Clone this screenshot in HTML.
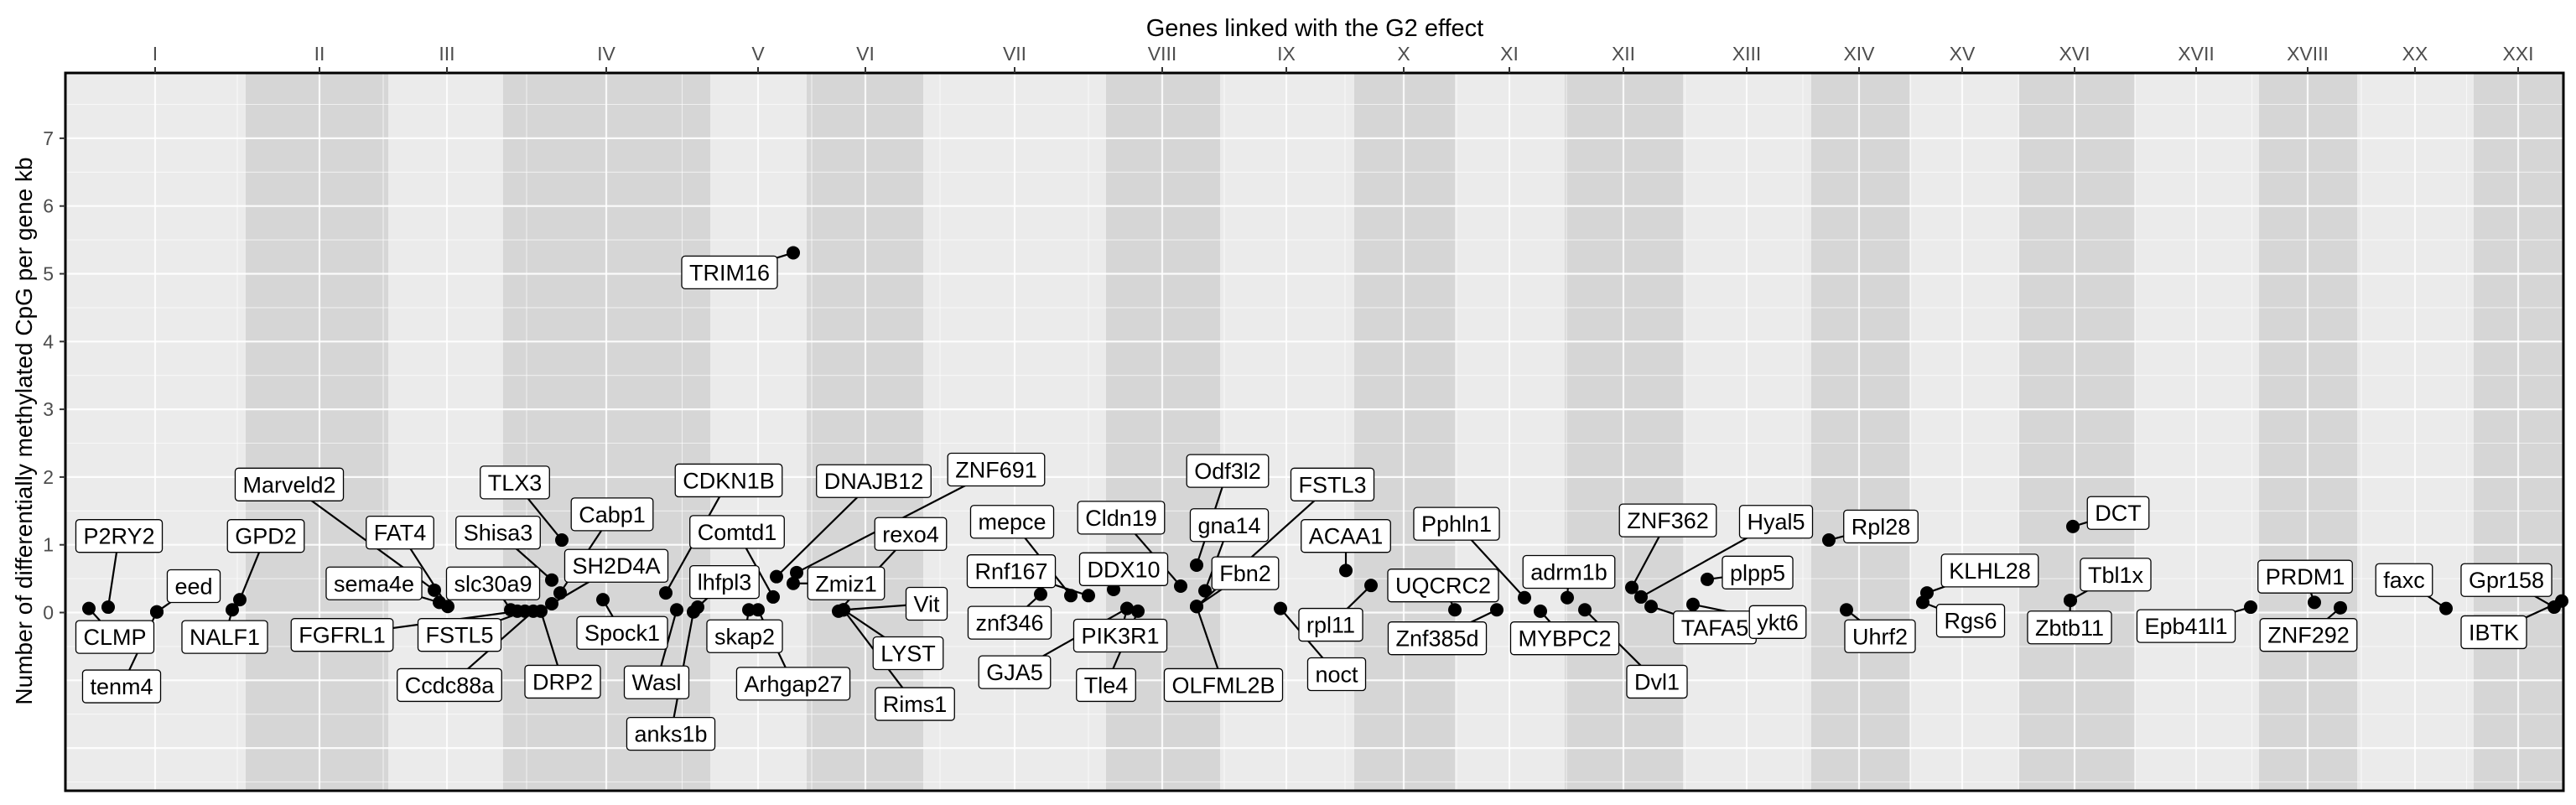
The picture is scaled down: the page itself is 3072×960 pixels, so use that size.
<!DOCTYPE html>
<html><head><meta charset="utf-8"><style>
html,body{margin:0;padding:0;background:#fff;}
svg{display:block;font-family:"Liberation Sans",Arial,sans-serif;}
</style></head><body>
<svg id="chart" width="3072" height="960" viewBox="0 0 3072 960" xmlns="http://www.w3.org/2000/svg">
<g id="bands"></g>
<g id="grid"></g>
<g id="segs"></g>
<g id="pts"></g>
<g id="labs"></g>
<g id="axes"></g>
<text x="1568" y="43" font-size="29" text-anchor="middle" fill="#000">Genes linked with the G2 effect</text>
<text transform="translate(38,514) rotate(-90)" font-size="28" text-anchor="middle" fill="#000">Number of differentially methylated CpG per gene kb</text>
</svg>
<script>
const chromNames=["I","II","III","IV","V","VI","VII","VIII","IX","X","XI","XII","XIII","XIV","XV","XVI","XVII","XVIII","XX","XXI"];
const chromTicks=[107,303,455,645,826,954,1132,1308,1456,1596,1722,1858,2005,2139,2262,2396,2541,2674,2802,2925];
const darkBandStart=[215,522,884,1241,1537,1788,2082,2330,2616,2872];
const darkBandEnd=[385,769,1023,1377,1657,1929,2199,2467,2733,2979];
const yTicks=[0,1,2,3,4,5,6,7];
const genes=["CLMP","P2RY2","tenm4","eed","NALF1","GPD2","Marveld2","sema4e","FAT4","slc30a9","FGFRL1","FSTL5","Ccdc88a","DRP2","Shisa3","SH2D4A","Cabp1","TLX3","Spock1","CDKN1B","Wasl","anks1b","lhfpl3","skap2","Arhgap27","Comtd1","TRIM16","DNAJB12","Zmiz1","ZNF691","rexo4","Vit","LYST","Rims1","znf346","mepce","Rnf167","DDX10","GJA5","PIK3R1","Tle4","Cldn19","Odf3l2","gna14","Fbn2","OLFML2B","FSTL3","noct","ACAA1","rpl11","UQCRC2","Znf385d","Pphln1","MYBPC2","adrm1b","Dvl1","ZNF362","Hyal5","TAFA5","ykt6","plpp5","Rpl28","Uhrf2","Rgs6","KLHL28","Tbl1x","Zbtb11","DCT","Epb41l1","PRDM1","ZNF292","faxc","Gpr158","IBTK"];
const genePos=[28,51,109,109,199,208,440,446,456,531,539,548,558,567,580,580,590,592,641,716,729,749,754,815,826,844,868,848,868,872,922,928,928,928,1163,1199,1220,1250,1266,1266,1279,1330,1349,1359,1349,1349,1349,1449,1527,1557,1657,1707,1740,1759,1791,1812,1868,1879,1891,1941,1958,2103,2124,2215,2220,2391,2391,2394,2606,2682,2713,2839,2968,2977];
const cpgPerKb=[0.06,0.08,0.01,0.01,0.04,0.19,0.33,0.15,0.09,0.04,0.02,0.02,0.02,0.02,0.48,0.13,0.29,1.07,0.19,0.29,0.04,0.01,0.08,0.04,0.04,0.23,5.31,0.53,0.43,0.59,0.02,0.04,0.04,0.04,0.27,0.25,0.25,0.34,0.06,0.06,0.02,0.39,0.70,0.32,0.09,0.09,0.09,0.06,0.62,0.40,0.04,0.04,0.22,0.02,0.22,0.04,0.37,0.23,0.09,0.12,0.49,1.07,0.04,0.15,0.29,0.18,0.18,1.27,0.08,0.15,0.07,0.06,0.08,0.17];
const labelPos=[59,64,67,153,190,239,267,368,399,510,330,470,458,593,516,657,652,536,664,791,705,722,786,810,868,801,792,964,931,1110,1008,1027,1005,1013,1126,1129,1128,1262,1132,1258,1241,1259,1386,1388,1407,1381,1511,1516,1527,1509,1643,1636,1659,1788,1793,1898,1911,2040,1967,2042,2018,2165,2164,2272,2295,2445,2390,2448,2529,2671,2675,2789,2911,2896];
const labelVal=[-0.36,1.13,-1.09,0.39,-0.36,1.13,1.89,0.43,1.18,0.43,-0.33,-0.33,-1.07,-1.02,1.18,0.69,1.45,1.92,-0.30,1.95,-1.03,-1.79,0.45,-0.35,-1.05,1.19,5.02,1.94,0.43,2.11,1.16,0.13,-0.60,-1.35,-0.15,1.34,0.61,0.64,-0.88,-0.34,-1.07,1.40,2.09,1.29,0.58,-1.07,1.89,-0.91,1.13,-0.18,0.40,-0.38,1.31,-0.38,0.60,-1.02,1.36,1.34,-0.22,-0.14,0.59,1.27,-0.35,-0.12,0.62,0.56,-0.22,1.47,-0.20,0.53,-0.33,0.48,0.48,-0.29];

const L=78,R=3057,T=87,B=943;
const xS=d=>L+d*(R-L)/2979;
const yS=v=>730.5-v*80.8;
const NS="http://www.w3.org/2000/svg";
function mk(tag,attrs,parent){const e=document.createElementNS(NS,tag);for(const k in attrs)e.setAttribute(k,attrs[k]);parent.appendChild(e);return e;}
const bands=document.getElementById('bands'),grid=document.getElementById('grid'),segs=document.getElementById('segs'),pts=document.getElementById('pts'),labs=document.getElementById('labs'),axes=document.getElementById('axes');

let bg=mk('rect',{x:L,y:T,width:R-L,height:B-T,fill:'#EBEBEB'},bands);


darkBandStart.forEach((s,i)=>{
  const r=mk('rect',{x:xS(s),y:T,width:xS(darkBandEnd[i])-xS(s),height:B-T,fill:'#D6D6D6'},bands);
  
  
});
for(let v=-2.5;v<=7.5;v+=0.5){
  const major=Number.isInteger(v);
  const l=mk('line',{x1:L,x2:R,y1:yS(v),y2:yS(v),stroke:'#fff','stroke-opacity':major?0.9:0.6,'stroke-width':major?2.2:1.1},grid);
  
  
}
chromTicks.forEach((t,i)=>{
  const l=mk('line',{x1:xS(t),x2:xS(t),y1:T,y2:B,stroke:'#fff','stroke-opacity':0.85,'stroke-width':2.2},grid);
  
  
  if(i>0){const m=(t+chromTicks[i-1])/2;
    const ml=mk('line',{x1:xS(m),x2:xS(m),y1:T,y2:B,stroke:'#fff','stroke-opacity':0.6,'stroke-width':1.1},grid);
    
    }
});
genes.forEach((g,i)=>{
  const px=xS(genePos[i]),py=yS(cpgPerKb[i]);
  const lx=xS(labelPos[i]),ly=yS(labelVal[i]);
  const s=mk('line',{x1:px,y1:py,x2:lx,y2:ly,stroke:'#000','stroke-width':2.2},segs);
  
  
  const c=mk('circle',{cx:px,cy:py,r:8,fill:'#000'},pts);
  
  
  const gg=mk('g',{},labs);
  
  
  const rect=mk('rect',{fill:'#fff',stroke:'#000','stroke-width':1.3,rx:4,ry:4},gg);
  const t=mk('text',{x:lx,y:ly+9.5,'font-size':27,'text-anchor':'middle',fill:'#000'},gg);
  t.textContent=g;
  const w=t.getComputedTextLength();
  rect.setAttribute('x',lx-w/2-9);rect.setAttribute('y',ly-19.5);
  rect.setAttribute('width',w+18);rect.setAttribute('height',39);
});
const br=mk('rect',{x:L,y:T,width:R-L,height:B-T,fill:'none',stroke:'#000','stroke-width':3},axes);


chromTicks.forEach((t,i)=>{
  const tk=mk('line',{x1:xS(t),x2:xS(t),y1:T-7,y2:T,stroke:'#333','stroke-width':2},axes);
  
  
  const tx=mk('text',{x:xS(t),y:72,'font-size':23,'text-anchor':'middle',fill:'#4D4D4D'},axes);
  tx.textContent=chromNames[i];
  
  
});
yTicks.forEach(v=>{
  const tk=mk('line',{x1:L-7,x2:L,y1:yS(v),y2:yS(v),stroke:'#333','stroke-width':2},axes);
  
  
  const tx=mk('text',{x:L-14,y:yS(v)+8,'font-size':23,'text-anchor':'end',fill:'#4D4D4D'},axes);
  tx.textContent=v;
  
  
});
</script>
</body></html>
